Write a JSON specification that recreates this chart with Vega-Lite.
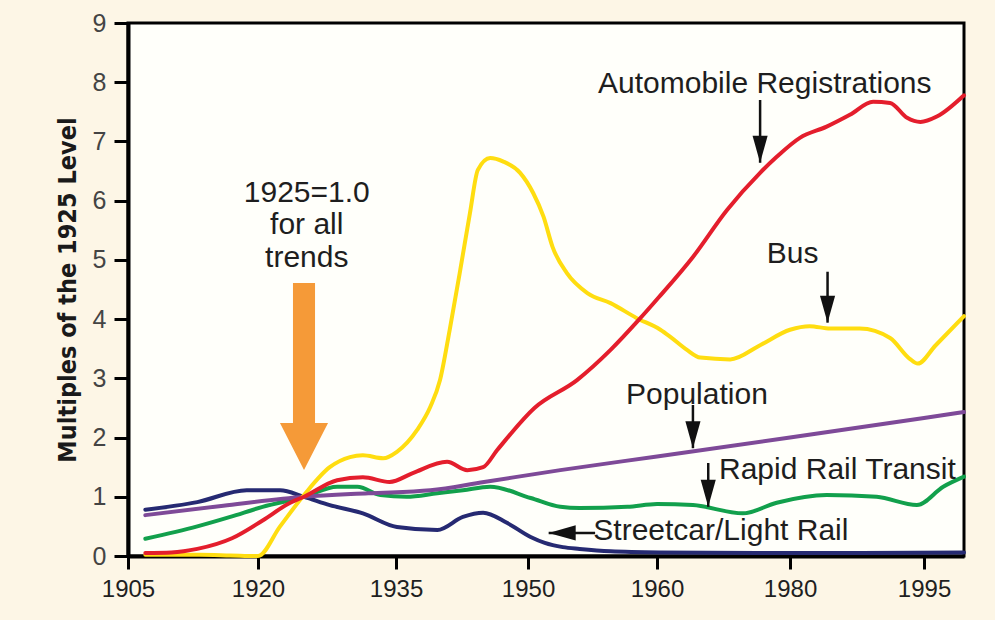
{
  "$schema": "https://vega.github.io/schema/vega-lite/v6.json",
  "width": 836,
  "height": 533,
  "autosize": {"type": "none"},
  "padding": {"left": 128, "top": 23, "right": 31, "bottom": 64},
  "background": "#FDF6E6",
  "config": {
    "view": {"stroke": "#000000", "strokeWidth": 3, "fill": "#FFFFFA"},
    "font": "Liberation Sans"
  },
  "datasets": {
    "series": [
      {"series": "Streetcar/Light Rail", "year": 1907, "value": 0.78},
      {"series": "Streetcar/Light Rail", "year": 1913, "value": 0.91},
      {"series": "Streetcar/Light Rail", "year": 1918.7, "value": 1.11},
      {"series": "Streetcar/Light Rail", "year": 1922.4, "value": 1.11},
      {"series": "Streetcar/Light Rail", "year": 1925, "value": 1.0},
      {"series": "Streetcar/Light Rail", "year": 1927.8, "value": 0.86},
      {"series": "Streetcar/Light Rail", "year": 1931.4, "value": 0.72},
      {"series": "Streetcar/Light Rail", "year": 1935.1, "value": 0.49},
      {"series": "Streetcar/Light Rail", "year": 1939.7, "value": 0.44},
      {"series": "Streetcar/Light Rail", "year": 1942.6, "value": 0.66},
      {"series": "Streetcar/Light Rail", "year": 1944.9, "value": 0.73},
      {"series": "Streetcar/Light Rail", "year": 1947.6, "value": 0.56},
      {"series": "Streetcar/Light Rail", "year": 1950.2, "value": 0.32},
      {"series": "Streetcar/Light Rail", "year": 1951.3, "value": 0.22},
      {"series": "Streetcar/Light Rail", "year": 1952.7, "value": 0.15},
      {"series": "Streetcar/Light Rail", "year": 1954, "value": 0.12},
      {"series": "Streetcar/Light Rail", "year": 1956.4, "value": 0.08},
      {"series": "Streetcar/Light Rail", "year": 1960.5, "value": 0.06},
      {"series": "Streetcar/Light Rail", "year": 1975.5, "value": 0.05},
      {"series": "Streetcar/Light Rail", "year": 1987.8, "value": 0.05},
      {"series": "Streetcar/Light Rail", "year": 2000, "value": 0.06},

      {"series": "Rapid Rail Transit", "year": 1907, "value": 0.29},
      {"series": "Rapid Rail Transit", "year": 1913, "value": 0.5},
      {"series": "Rapid Rail Transit", "year": 1916.8, "value": 0.66},
      {"series": "Rapid Rail Transit", "year": 1920.5, "value": 0.83},
      {"series": "Rapid Rail Transit", "year": 1925, "value": 1.0},
      {"series": "Rapid Rail Transit", "year": 1928.6, "value": 1.17},
      {"series": "Rapid Rail Transit", "year": 1930.8, "value": 1.17},
      {"series": "Rapid Rail Transit", "year": 1933.3, "value": 1.03},
      {"series": "Rapid Rail Transit", "year": 1936.2, "value": 1.0},
      {"series": "Rapid Rail Transit", "year": 1939.7, "value": 1.06},
      {"series": "Rapid Rail Transit", "year": 1942.6, "value": 1.11},
      {"series": "Rapid Rail Transit", "year": 1945.7, "value": 1.17},
      {"series": "Rapid Rail Transit", "year": 1950.2, "value": 0.98},
      {"series": "Rapid Rail Transit", "year": 1952.5, "value": 0.83},
      {"series": "Rapid Rail Transit", "year": 1954, "value": 0.81},
      {"series": "Rapid Rail Transit", "year": 1957.7, "value": 0.83},
      {"series": "Rapid Rail Transit", "year": 1960, "value": 0.88},
      {"series": "Rapid Rail Transit", "year": 1965.4, "value": 0.86},
      {"series": "Rapid Rail Transit", "year": 1972.9, "value": 0.72},
      {"series": "Rapid Rail Transit", "year": 1978, "value": 0.9},
      {"series": "Rapid Rail Transit", "year": 1984.1, "value": 1.03},
      {"series": "Rapid Rail Transit", "year": 1989.7, "value": 1.0},
      {"series": "Rapid Rail Transit", "year": 1994.2, "value": 0.86},
      {"series": "Rapid Rail Transit", "year": 1997.4, "value": 1.17},
      {"series": "Rapid Rail Transit", "year": 2000, "value": 1.34},

      {"series": "Population", "year": 1907, "value": 0.69},
      {"series": "Population", "year": 1916, "value": 0.85},
      {"series": "Population", "year": 1925, "value": 1.0},
      {"series": "Population", "year": 1932, "value": 1.06},
      {"series": "Population", "year": 1938.9, "value": 1.11},
      {"series": "Population", "year": 1945, "value": 1.25},
      {"series": "Population", "year": 1952.5, "value": 1.45},
      {"series": "Population", "year": 1960, "value": 1.68},
      {"series": "Population", "year": 1980, "value": 2.0},
      {"series": "Population", "year": 1995, "value": 2.33},
      {"series": "Population", "year": 2000, "value": 2.43},

      {"series": "Bus", "year": 1907, "value": 0.02},
      {"series": "Bus", "year": 1913.3, "value": 0.02},
      {"series": "Bus", "year": 1916.8, "value": 0.01},
      {"series": "Bus", "year": 1920, "value": 0.0},
      {"series": "Bus", "year": 1922.4, "value": 0.5},
      {"series": "Bus", "year": 1925, "value": 1.03},
      {"series": "Bus", "year": 1927.8, "value": 1.5},
      {"series": "Bus", "year": 1930, "value": 1.67},
      {"series": "Bus", "year": 1931.4, "value": 1.7},
      {"series": "Bus", "year": 1933.6, "value": 1.65},
      {"series": "Bus", "year": 1935.1, "value": 1.76},
      {"series": "Bus", "year": 1937.4, "value": 2.13},
      {"series": "Bus", "year": 1938.9, "value": 2.52},
      {"series": "Bus", "year": 1940.0, "value": 2.97},
      {"series": "Bus", "year": 1941.1, "value": 3.82},
      {"series": "Bus", "year": 1942.3, "value": 4.83},
      {"series": "Bus", "year": 1943.4, "value": 5.79},
      {"series": "Bus", "year": 1944.3, "value": 6.52},
      {"series": "Bus", "year": 1945.7, "value": 6.72},
      {"series": "Bus", "year": 1947.2, "value": 6.66},
      {"series": "Bus", "year": 1949.1, "value": 6.47},
      {"series": "Bus", "year": 1950.4, "value": 6.13},
      {"series": "Bus", "year": 1951.2, "value": 5.73},
      {"series": "Bus", "year": 1951.9, "value": 5.22},
      {"series": "Bus", "year": 1953.0, "value": 4.78},
      {"series": "Bus", "year": 1954.6, "value": 4.44},
      {"series": "Bus", "year": 1956.4, "value": 4.27},
      {"series": "Bus", "year": 1958.4, "value": 4.02},
      {"series": "Bus", "year": 1960.5, "value": 3.82},
      {"series": "Bus", "year": 1962, "value": 3.7},
      {"series": "Bus", "year": 1964.5, "value": 3.48},
      {"series": "Bus", "year": 1966.5, "value": 3.35},
      {"series": "Bus", "year": 1971, "value": 3.32},
      {"series": "Bus", "year": 1975.5, "value": 3.56},
      {"series": "Bus", "year": 1980, "value": 3.82},
      {"series": "Bus", "year": 1982.2, "value": 3.88},
      {"series": "Bus", "year": 1984.5, "value": 3.84},
      {"series": "Bus", "year": 1987.8, "value": 3.84},
      {"series": "Bus", "year": 1991.2, "value": 3.68},
      {"series": "Bus", "year": 1993.4, "value": 3.33},
      {"series": "Bus", "year": 1994.3, "value": 3.25},
      {"series": "Bus", "year": 1996.4, "value": 3.55},
      {"series": "Bus", "year": 2000, "value": 4.05},

      {"series": "Automobile Registrations", "year": 1907, "value": 0.05},
      {"series": "Automobile Registrations", "year": 1910, "value": 0.06},
      {"series": "Automobile Registrations", "year": 1913, "value": 0.12},
      {"series": "Automobile Registrations", "year": 1917, "value": 0.3},
      {"series": "Automobile Registrations", "year": 1920.5, "value": 0.6},
      {"series": "Automobile Registrations", "year": 1923.5, "value": 0.9},
      {"series": "Automobile Registrations", "year": 1925, "value": 1.0},
      {"series": "Automobile Registrations", "year": 1928.6, "value": 1.28},
      {"series": "Automobile Registrations", "year": 1931.4, "value": 1.33},
      {"series": "Automobile Registrations", "year": 1934.3, "value": 1.25},
      {"series": "Automobile Registrations", "year": 1936.9, "value": 1.4},
      {"series": "Automobile Registrations", "year": 1940.8, "value": 1.59},
      {"series": "Automobile Registrations", "year": 1943.1, "value": 1.45},
      {"series": "Automobile Registrations", "year": 1944.9, "value": 1.5},
      {"series": "Automobile Registrations", "year": 1946.5, "value": 1.79},
      {"series": "Automobile Registrations", "year": 1950.5, "value": 2.5},
      {"series": "Automobile Registrations", "year": 1953.8, "value": 2.97},
      {"series": "Automobile Registrations", "year": 1956.4, "value": 3.48},
      {"series": "Automobile Registrations", "year": 1958.6, "value": 3.99},
      {"series": "Automobile Registrations", "year": 1960.2, "value": 4.36},
      {"series": "Automobile Registrations", "year": 1965.4, "value": 5.05},
      {"series": "Automobile Registrations", "year": 1970.5, "value": 5.84},
      {"series": "Automobile Registrations", "year": 1975.5, "value": 6.47},
      {"series": "Automobile Registrations", "year": 1978, "value": 6.74},
      {"series": "Automobile Registrations", "year": 1981.1, "value": 7.06},
      {"series": "Automobile Registrations", "year": 1984.1, "value": 7.25},
      {"series": "Automobile Registrations", "year": 1986.7, "value": 7.45},
      {"series": "Automobile Registrations", "year": 1989.3, "value": 7.67},
      {"series": "Automobile Registrations", "year": 1991.2, "value": 7.65},
      {"series": "Automobile Registrations", "year": 1993.1, "value": 7.4},
      {"series": "Automobile Registrations", "year": 1994.6, "value": 7.33},
      {"series": "Automobile Registrations", "year": 1996.6, "value": 7.42},
      {"series": "Automobile Registrations", "year": 2000, "value": 7.78}
    ],
    "labels": [
      {"year": 1976.2, "value": 7.97, "label": "Automobile Registrations"},
      {"year": 1980.3, "value": 5.1, "label": "Bus"},
      {"year": 1966, "value": 2.72, "label": "Population"},
      {"year": 1985.3, "value": 1.45, "label": "Rapid Rail Transit"},
      {"year": 1969.6, "value": 0.42, "label": "Streetcar/Light Rail"},
      {"year": 1925.3, "value": 6.13, "label": "1925=1.0"},
      {"year": 1925.3, "value": 5.59, "label": "for all"},
      {"year": 1925.3, "value": 5.03, "label": "trends"}
    ],
    "varrows": [
      {"year": 1975.5, "value": 7.7, "value2": 6.64},
      {"year": 1984.2, "value": 4.8, "value2": 3.94},
      {"year": 1965.4, "value": 2.55, "value2": 1.82},
      {"year": 1967.7, "value": 1.57, "value2": 0.83}
    ],
    "harrows": [
      {"year": 1955.2, "year2": 1951.6, "value": 0.39}
    ],
    "marker": [
      {"year": 1925, "value": 3.03}
    ]
  },
  "encoding": {
    "x": {
      "field": "year",
      "type": "quantitative",
      "scale": {
        "type": "linear",
        "domain": [1905, 1920, 1935, 1950, 1960, 1980, 1995, 2000],
        "range": [0, {"expr": "width*0.1555"}, {"expr": "width*0.3206"}, {"expr": "width*0.4785"}, {"expr": "width*0.6328"}, {"expr": "width*0.7919"}, {"expr": "width*0.9522"}, {"expr": "width"}],
        "nice": false,
        "zero": false
      },
      "axis": {
        "values": [1905, 1920, 1935, 1950, 1960, 1980, 1995],
        "format": "d",
        "grid": false,
        "title": null,
        "domainColor": "#000000",
        "domainWidth": 4,
        "tickColor": "#000000",
        "tickWidth": 3,
        "tickSize": 13,
        "labelFont": "Liberation Sans",
        "labelFontSize": 24,
        "labelColor": "#1f1f1f",
        "labelPadding": 8,
        "labelFlush": false,
        "labelOverlap": false
      }
    },
    "y": {
      "field": "value",
      "type": "quantitative",
      "scale": {"domain": [0, 9], "nice": false, "zero": true},
      "axis": {
        "values": [0, 1, 2, 3, 4, 5, 6, 7, 8, 9],
        "grid": false,
        "title": "Multiples of the 1925 Level",
        "titleFont": "DejaVu Sans Condensed, Liberation Sans, sans-serif",
        "titleFontWeight": "bold",
        "titleFontSize": 25,
        "titleColor": "#1a1a1a",
        "titlePadding": 12,
        "domainColor": "#000000",
        "domainWidth": 4,
        "tickColor": "#000000",
        "tickWidth": 3,
        "tickSize": 14,
        "labelFont": "Liberation Sans",
        "labelFontSize": 25,
        "labelColor": "#444444",
        "labelPadding": 8
      }
    }
  },
  "layer": [
    {
      "data": {"name": "marker"},
      "mark": {
        "type": "point",
        "filled": true,
        "shape": "M-0.118,-1L0.118,-1L0.118,0.497L0.257,0.497L0,1L-0.257,0.497L-0.118,0.497Z",
        "size": 34969,
        "color": "#F59A38",
        "opacity": 1,
        "strokeWidth": 0
      }
    },
    {
      "data": {"name": "series"},
      "mark": {"type": "line", "strokeWidth": 4, "interpolate": "monotone", "strokeCap": "round"},
      "encoding": {
        "color": {
          "field": "series",
          "type": "nominal",
          "scale": {
            "domain": ["Streetcar/Light Rail", "Rapid Rail Transit", "Population", "Bus", "Automobile Registrations"],
            "range": ["#262A72", "#12A04C", "#7E4A98", "#FFDD10", "#E41E2C"]
          },
          "legend": null
        }
      }
    },
    {
      "data": {"name": "varrows"},
      "mark": {"type": "rule", "color": "#111111", "strokeWidth": 2.5},
      "encoding": {"y2": {"field": "value2"}}
    },
    {
      "data": {"name": "varrows"},
      "mark": {
        "type": "point",
        "filled": true,
        "shape": "M-0.28,-1L0.28,-1L0,0Z",
        "size": 2916,
        "color": "#111111",
        "opacity": 1,
        "strokeWidth": 0
      },
      "encoding": {"y": {"field": "value2", "type": "quantitative"}}
    },
    {
      "data": {"name": "harrows"},
      "mark": {"type": "rule", "color": "#111111", "strokeWidth": 2.5},
      "encoding": {"x2": {"field": "year2"}}
    },
    {
      "data": {"name": "harrows"},
      "mark": {
        "type": "point",
        "filled": true,
        "shape": "M1,-0.28L1,0.28L0,0Z",
        "size": 2916,
        "color": "#111111",
        "opacity": 1,
        "strokeWidth": 0
      },
      "encoding": {"x": {"field": "year2", "type": "quantitative"}}
    },
    {
      "data": {"name": "labels"},
      "mark": {
        "type": "text",
        "font": "Liberation Sans",
        "fontSize": 30,
        "color": "#1e1e1e",
        "align": "center",
        "baseline": "middle"
      },
      "encoding": {"text": {"field": "label", "type": "nominal"}}
    }
  ]
}
